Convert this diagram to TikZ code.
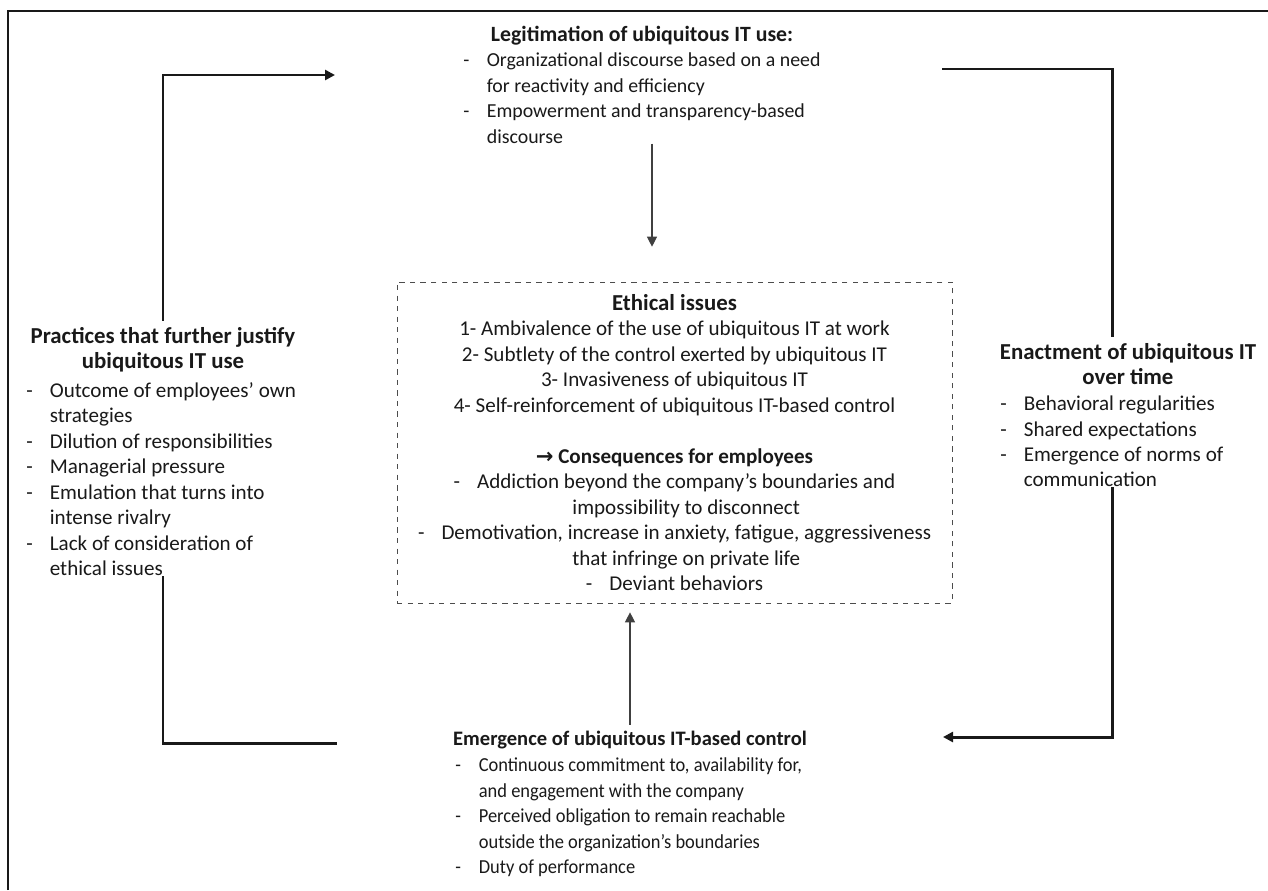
\documentclass[tikz,border=0pt]{standalone}
\usepackage{fontspec}
\setmainfont{Carlito}
\newfontfamily\narrowfont[FakeStretch=0.93]{Carlito}
\newfontfamily\symfont{DejaVu Sans}
\usetikzlibrary{arrows.meta}

\newcommand\itm[1]{\makebox[0.47cm][l]{-}#1}
\newcommand\cnt{\hspace*{0.47cm}}

\begin{document}
\begin{tikzpicture}[x=0.02cm,y=-0.02cm,
  >={Triangle[length=0.2cm,width=0.2cm]},
  every node/.style={font=\fontsize{12}{14.5}\selectfont,text=black!90},
  head/.style={font=\fontsize{#1}{14.5}\selectfont\bfseries,align=center},
  head/.default=13,
  items/.style={font=\fontsize{#1}{14.5}\selectfont,align=left,anchor=west,inner sep=0pt},
  items/.default=12,
  narrow/.style={font=\narrowfont\fontsize{11.3}{14.5}\selectfont},
  flow/.style={line width=1.7pt,black!90},
  link/.style={line width=0.6pt,black!75}]
\useasboundingbox (0,0) rectangle (1268,890);
\draw[line width=1.1pt,black!90] (8,890) -- (8,11) -- (1268,11);

\node[head=12.4] (Lt) at (642,36) {Legitimation of ubiquitous IT use:};
\node[items=11.3] (Ll) at (463,98) {\itm{Organizational discourse based on a need}\\
\cnt for reactivity and efficiency\\
\itm{Empowerment and transparency-based}\\
\cnt discourse};

\node[head] (Pt) at (163,349.5) {Practices that further justify\\ubiquitous IT use};
\node[items] (Pl) at (26,479) {\itm{Outcome of employees’ own}\\
\cnt strategies\\
\itm{Dilution of responsibilities}\\
\itm{Managerial pressure}\\
\itm{Emulation that turns into}\\
\cnt intense rivalry\\
\itm{Lack of consideration of}\\
\cnt ethical issues};

\node[head] (Et) at (1128,364) {Enactment of ubiquitous IT\\over time};
\node[items] (El) at (1000,441.5) {\itm{Behavioral regularities}\\
\itm{Shared expectations}\\
\itm{Emergence of norms of}\\
\cnt communication};

\node[head=11.7] (Mt) at (630,740) {Emergence of ubiquitous IT-based control};
\node[items,narrow] (Ml) at (455,817.5) {\itm{Continuous commitment to, availability for,}\\
\cnt and engagement with the company\\
\itm{Perceived obligation to remain reachable}\\
\cnt outside the organization’s boundaries\\
\itm{Duty of performance}};

\node[draw=black!70,dashed,minimum width=11.1cm,minimum height=6.42cm,align=center] (eth) at (674.5,442.5) {%
{\fontsize{13}{14.5}\selectfont\bfseries Ethical issues}\\
1- Ambivalence of the use of ubiquitous IT at work\\
2- Subtlety of the control exerted by ubiquitous IT\\
3- Invasiveness of ubiquitous IT\\
4- Self-reinforcement of ubiquitous IT-based control\\[0.51cm]
{\bfseries{\symfont →} Consequences for employees}\\
\itm{Addiction beyond the company’s boundaries and}\\
\cnt impossibility to disconnect\\
\itm{Demotivation, increase in anxiety, fatigue, aggressiveness}\\
\cnt that infringe on private life\\
\itm{Deviant behaviors}};

\coordinate (legitin) at (335,75);
\coordinate (legitout) at (942,69);
\coordinate (emergout) at (337,743);
\coordinate (emergin) at (943,737);
\coordinate (rx) at (1112,0);
\coordinate (dn) at (652,0);

\draw[flow,->] (Pt.north) |- (legitin);
\draw[flow] (Pt.north |- Pl.south) |- (emergout);
\draw[flow] (legitout) -| (Et.north -| rx);
\draw[flow,->] (El.south -| rx) |- (emergin);
\draw[link,->,shorten >=0.7cm] (Ll.south -| dn) -- (eth.north -| dn);
\draw[link,->,shorten >=0.18cm] (Mt.north) -- (Mt.north |- eth.south);
\end{tikzpicture}
\end{document}
